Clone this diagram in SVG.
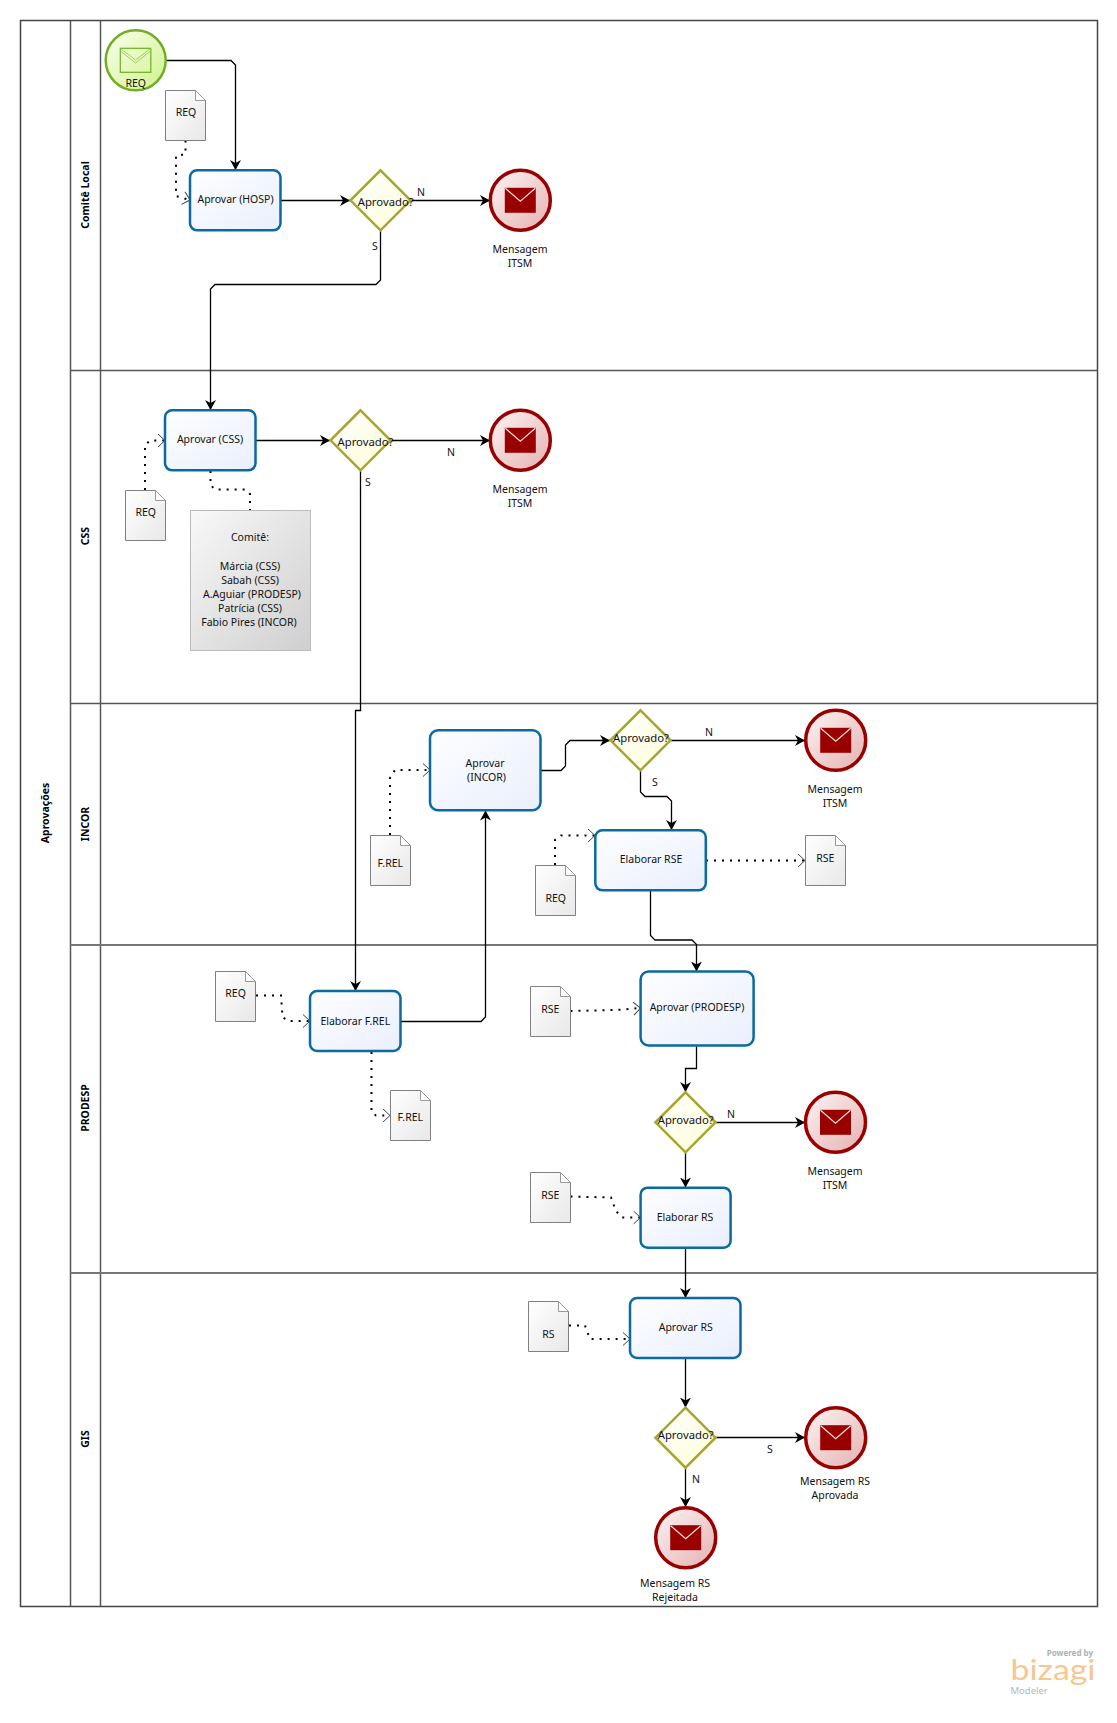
<svg xmlns="http://www.w3.org/2000/svg" width="1117" height="1723" viewBox="0 0 1117 1723">
<style>
text{font-family:"Noto Sans","Liberation Sans",sans-serif;font-size:10.5px;fill:#111;text-anchor:middle}
.b{font-weight:700;font-size:10.5px;fill:#000}
.g{font-size:11.3px}
.pool{fill:#fff;stroke:#444;stroke-width:1.5}
.ln{stroke:#555;stroke-width:1.5;fill:none}
.lg{stroke:#777;stroke-width:2;fill:none}
.task{fill:url(#gT);stroke:#0b6a9f;stroke-width:2.5}
.gw{fill:url(#gG);stroke:#a6a62c;stroke-width:2.5}
.end{fill:url(#gE);stroke:#990000;stroke-width:3.5}
.start{fill:url(#gS);stroke:#6fae25;stroke-width:2.5}
.doc{fill:url(#gD);stroke:#808080;stroke-width:1}
.fold{fill:#fff;stroke:#999;stroke-width:1}
.seq{fill:none;stroke:#000;stroke-width:1.3;marker-end:url(#arr)}
.dot{fill:none;stroke:#000;stroke-width:2;stroke-dasharray:2 6;marker-end:url(#chev)}
.dotn{fill:none;stroke:#000;stroke-width:2;stroke-dasharray:2 6}
</style>
<defs>
<linearGradient id="gT" x1="0" y1="0" x2="1" y2="1"><stop offset="0" stop-color="#fefeff"/><stop offset="1" stop-color="#e9effd"/></linearGradient>
<linearGradient id="gG" x1="0" y1="0" x2="1" y2="1"><stop offset="0" stop-color="#ffffff"/><stop offset="1" stop-color="#fdfdd8"/></linearGradient>
<linearGradient id="gE" x1="0" y1="0" x2="1" y2="1"><stop offset="0" stop-color="#fdf5f5"/><stop offset="1" stop-color="#e5b0b0"/></linearGradient>
<linearGradient id="gS" x1="0" y1="0" x2="1" y2="1"><stop offset="0" stop-color="#fbfff0"/><stop offset="1" stop-color="#cff28a"/></linearGradient>
<linearGradient id="gD" x1="0" y1="0" x2="1" y2="1"><stop offset="0" stop-color="#ffffff"/><stop offset="1" stop-color="#e8e8e8"/></linearGradient>
<linearGradient id="gA" x1="0" y1="0" x2="1" y2="1"><stop offset="0" stop-color="#f8f8f8"/><stop offset="1" stop-color="#cfcfcf"/></linearGradient>
<marker id="arr" markerUnits="userSpaceOnUse" markerWidth="14" markerHeight="14" refX="10" refY="6" orient="auto"><path d="M10,6 L0,0.5 L3,6 L0,11.5 Z" fill="#000"/></marker>
<marker id="chev" markerUnits="userSpaceOnUse" markerWidth="10" markerHeight="16" refX="8" refY="7" orient="auto"><path d="M1,0.5 L8,7 L1,13.5" fill="none" stroke="#444" stroke-width="1"/></marker>
<g id="env"><rect x="-15.5" y="-12.5" width="31" height="25" fill="#990000"/><path d="M-15,-12 L0,1 L15,-12" fill="none" stroke="#f3dede" stroke-width="1.2"/></g>
<path id="docS" class="doc" d="M0,0 H30 L40,10 V50 H0 Z"/>
<path id="docF" class="fold" d="M30,0 V10 H40 Z"/>
</defs>

<g id="pool">
<rect class="pool" x="20.5" y="20.5" width="1077" height="1586"/>
<path class="ln" d="M70.5,20.5 V1606.5 M100.5,20.5 V1606.5"/>
<path class="ln" d="M70.5,370.5 H1097.5 M70.5,703.5 H1097.5"/>
<path class="lg" d="M70.5,945 H1097.5 M70.5,1273 H1097.5"/>
<text class="b" transform="translate(49,813) rotate(-90)">Aprovações</text>
<text class="b" transform="translate(89,195) rotate(-90)">Comitê Local</text>
<text class="b" transform="translate(89,536) rotate(-90)">CSS</text>
<text class="b" transform="translate(89,824) rotate(-90)">INCOR</text>
<text class="b" transform="translate(89,1108) rotate(-90)">PRODESP</text>
<text class="b" transform="translate(89,1439) rotate(-90)">GIS</text>
</g>

<g id="connectors">
<path class="seq" d="M165.5,60.5 H231 L235.5,65 V170"/>
<path class="dot" d="M185.5,140.5 V154 L176,156 V196 L190,200"/>
<path class="seq" d="M281,200.5 H350"/>
<path class="seq" d="M410,200.5 H490"/>
<path class="seq" d="M380.5,230.5 V280 L376,284.5 H215 L210.5,289 V410"/>
<path class="dot" d="M145,490 V445 L150,440.5 H165"/>
<path class="dotn" d="M210.5,471 V485 L215,489.5 H245 L250,494 V510"/>
<path class="seq" d="M256,440.5 H330"/>
<path class="seq" d="M390,440.5 H490"/>
<path class="seq" d="M360.5,470.5 V710.5 H355.5 V991"/>
<path class="dot" d="M390,835 V778 L395,770 H430"/>
<path class="seq" d="M541,770.5 H561 L565.5,766 V745 L570,740.5 H610"/>
<path class="seq" d="M670,740.5 H805"/>
<path class="seq" d="M640.5,770.5 V792 L645,796.5 H667 L671.5,801 V830"/>
<path class="dot" d="M555,865 V840 L561,835.5 H595"/>
<path class="dot" d="M706,860.5 H805"/>
<path class="seq" d="M650.5,890.5 V935.5 L655,940 H692 L696.5,944.5 V971.5"/>
<path class="dot" d="M256,995.5 H281 L282.5,1017 L288,1021 H310"/>
<path class="dot" d="M371.5,1052 V1112 L376,1115.5 H390"/>
<path class="seq" d="M401,1021.5 H481 L485.5,1017 V810.5"/>
<path class="dot" d="M570.5,1011 L616,1010 L640.5,1008"/>
<path class="seq" d="M696.5,1046 V1068.5 H685.5 V1092"/>
<path class="seq" d="M716,1122.5 H805"/>
<path class="seq" d="M685.5,1152.5 V1187.5"/>
<path class="dot" d="M570.5,1196.5 L611,1197.5 L616,1211 L622,1217.5 H640.5"/>
<path class="seq" d="M685.5,1248 V1298"/>
<path class="dot" d="M569,1325.5 H585 L590,1339 H630"/>
<path class="seq" d="M685.5,1358.5 V1407.5"/>
<path class="seq" d="M716,1437.5 H805"/>
<path class="seq" d="M685.5,1467.5 V1507"/>
</g>

<g id="edge-labels">
<text x="421" y="196">N</text><text x="375" y="250">S</text>
<text x="451" y="456">N</text><text x="368" y="486">S</text>
<text x="709" y="736">N</text><text x="655" y="786">S</text>
<text x="731" y="1118">N</text>
<text x="770" y="1453">S</text><text x="696" y="1483">N</text>
</g>

<g id="start-req"><circle class="start" cx="135.7" cy="60.3" r="30"/>
<rect x="120.3" y="48.3" width="30.5" height="24" fill="none" stroke="#6fae25" stroke-width="1.2"/>
<path d="M120.5,48.5 L135.5,60 L150.5,48.5 M120.5,51 L135.5,63 L150.5,51" fill="none" stroke="#8fc24a" stroke-width="0.8"/>
<text x="135.7" y="87">REQ</text></g>

<g id="doc-req1"><use href="#docS" x="165.5" y="90.5"/><use href="#docF" x="165.5" y="90.5"/><text x="186" y="116">REQ</text></g>
<g id="task-hosp"><rect class="task" x="190" y="170.3" width="90.5" height="60" rx="7"/><text x="235.5" y="203">Aprovar (HOSP)</text></g>
<g id="gw-hosp"><path class="gw" d="M380.5,170.3 L410.5,200.3 L380.5,230.3 L350.5,200.3 Z"/><text class="g" x="385.7" y="205.5">Aprovado?</text></g>
<g id="end-hosp"><circle class="end" cx="520.3" cy="200.3" r="30"/><use href="#env" x="520.3" y="200.3"/><text x="520" y="253">Mensagem</text><text x="520" y="267">ITSM</text></g>

<g id="doc-req2"><use href="#docS" x="125.5" y="490.5"/><use href="#docF" x="125.5" y="490.5"/><text x="145.7" y="516">REQ</text></g>
<g id="task-css"><rect class="task" x="165" y="410.3" width="90.5" height="60" rx="7"/><text x="210" y="443">Aprovar (CSS)</text></g>
<g id="gw-css"><path class="gw" d="M360.5,410.3 L390.5,440.3 L360.5,470.3 L330.5,440.3 Z"/><text class="g" x="365.5" y="445.5">Aprovado?</text></g>
<g id="end-css"><circle class="end" cx="520.3" cy="440.3" r="30"/><use href="#env" x="520.3" y="440.3"/><text x="520" y="493">Mensagem</text><text x="520" y="507">ITSM</text></g>
<g id="annotation"><rect x="190.5" y="510.5" width="120" height="140" fill="url(#gA)" stroke="#bbb" stroke-width="1"/>
<text x="250" y="540.5">Comitê:</text><text x="250" y="570">Márcia (CSS)</text><text x="250" y="584">Sabah (CSS)</text><text x="252" y="598">A.Aguiar (PRODESP)</text><text x="250" y="612">Patrícia (CSS)</text><text x="249" y="626">Fabio Pires (INCOR)</text></g>

<g id="doc-frel1"><use href="#docS" x="370.5" y="835.5"/><use href="#docF" x="370.5" y="835.5"/><text x="390.3" y="866.5">F.REL</text></g>
<g id="task-incor"><rect class="task" x="430" y="730.3" width="110.5" height="80" rx="8"/><text x="485" y="767">Aprovar</text><text x="486.5" y="781">(INCOR)</text></g>
<g id="gw-incor"><path class="gw" d="M640.5,710.3 L670.5,740.3 L640.5,770.3 L610.5,740.3 Z"/><text class="g" x="641" y="741.5">Aprovado?</text></g>
<g id="end-incor"><circle class="end" cx="835.7" cy="740.3" r="30"/><use href="#env" x="835.7" y="740.3"/><text x="835" y="793">Mensagem</text><text x="835" y="807">ITSM</text></g>
<g id="doc-req3"><use href="#docS" x="535.5" y="865.5"/><use href="#docF" x="535.5" y="865.5"/><text x="555.7" y="902">REQ</text></g>
<g id="task-rse"><rect class="task" x="595.3" y="830.3" width="110.5" height="60" rx="7"/><text x="651" y="862.5">Elaborar RSE</text></g>
<g id="doc-rse1"><use href="#docS" x="805.5" y="835.5"/><use href="#docF" x="805.5" y="835.5"/><text x="825.3" y="861.5">RSE</text></g>

<g id="doc-req4"><use href="#docS" x="215.5" y="971.5"/><use href="#docF" x="215.5" y="971.5"/><text x="235.6" y="996.5">REQ</text></g>
<g id="task-frel"><rect class="task" x="310" y="991" width="90.5" height="60" rx="7"/><text x="355.3" y="1024.5">Elaborar F.REL</text></g>
<g id="doc-frel2"><use href="#docS" x="390.5" y="1090.5"/><use href="#docF" x="390.5" y="1090.5"/><text x="410.3" y="1121">F.REL</text></g>
<g id="doc-rse2"><use href="#docS" x="530.5" y="986.5"/><use href="#docF" x="530.5" y="986.5"/><text x="550.4" y="1013">RSE</text></g>
<g id="task-prodesp"><rect class="task" x="640.6" y="971.5" width="113" height="74" rx="8"/><text x="697" y="1011">Aprovar (PRODESP)</text></g>
<g id="gw-prodesp"><path class="gw" d="M685.5,1092.3 L715.5,1122.3 L685.5,1152.3 L655.5,1122.3 Z"/><text class="g" x="685.7" y="1123.8">Aprovado?</text></g>
<g id="end-prodesp"><circle class="end" cx="835.5" cy="1122.3" r="30"/><use href="#env" x="835.5" y="1122.3"/><text x="835" y="1175">Mensagem</text><text x="835" y="1189">ITSM</text></g>
<g id="doc-rse3"><use href="#docS" x="530.5" y="1172.5"/><use href="#docF" x="530.5" y="1172.5"/><text x="550.4" y="1199">RSE</text></g>
<g id="task-ers"><rect class="task" x="640.6" y="1187.7" width="90" height="60" rx="7"/><text x="685" y="1220.5">Elaborar RS</text></g>

<g id="doc-rs"><use href="#docS" x="528.5" y="1301.5"/><use href="#docF" x="528.5" y="1301.5"/><text x="548.3" y="1337.5">RS</text></g>
<g id="task-ars"><rect class="task" x="630" y="1298" width="110.5" height="60" rx="7"/><text x="685.7" y="1330.5">Aprovar RS</text></g>
<g id="gw-gis"><path class="gw" d="M685.5,1407.7 L715.5,1437.7 L685.5,1467.7 L655.5,1437.7 Z"/><text class="g" x="685.7" y="1438.5">Aprovado?</text></g>
<g id="end-aprov"><circle class="end" cx="835.7" cy="1437.7" r="30"/><use href="#env" x="835.7" y="1437.7"/><text x="835" y="1485">Mensagem RS</text><text x="835" y="1499">Aprovada</text></g>
<g id="end-rej"><circle class="end" cx="685.7" cy="1537.7" r="30"/><use href="#env" x="685.7" y="1537.7"/><text x="675" y="1587">Mensagem RS</text><text x="675" y="1601">Rejeitada</text></g>

<g id="logo">
<text x="1093" y="1656" style="text-anchor:end;font-size:8px;font-weight:700;fill:#a9b2b8">Powered by</text>
<text x="1010.5" y="1680" textLength="85" lengthAdjust="spacingAndGlyphs" style="text-anchor:start;font-size:29px;font-family:Lato,sans-serif;fill:#f9c690">bizagi</text>
<text x="1010.5" y="1694" style="text-anchor:start;font-size:9.5px;fill:#b2b8bd">Modeler</text>
</g>
</svg>
